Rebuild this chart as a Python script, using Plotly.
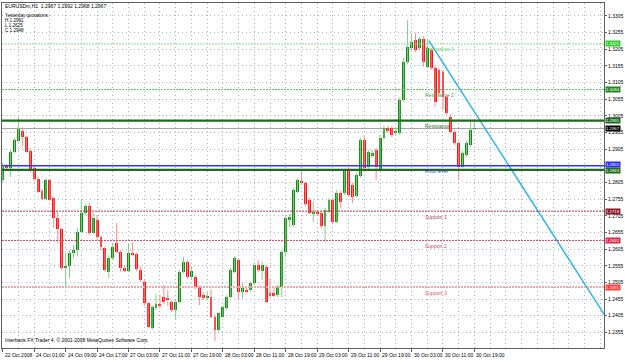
import plotly.graph_objects as go

# ---------------- data (EURUSDm, H1) ----------------
opens = [1.2813, 1.2853, 1.2848, 1.2898, 1.2931, 1.2961, 1.2941, 1.2901, 1.2848, 1.2816,
         1.2780, 1.2756, 1.2813, 1.2758, 1.2698, 1.2665, 1.2547, 1.2554, 1.2592, 1.2602,
         1.2657, 1.2713, 1.2734, 1.2654, 1.2692, 1.2640, 1.2608, 1.2536, 1.2577, 1.2622,
         1.2597, 1.2547, 1.2540, 1.2594, 1.2589, 1.2542, 1.2507, 1.2442, 1.2367, 1.2427,
         1.2440, 1.2462, 1.2459, 1.2447, 1.2422, 1.2447, 1.2537, 1.2565, 1.2520, 1.2520,
         1.2490, 1.2467, 1.2458, 1.2462, 1.2402, 1.2362, 1.2402, 1.2427, 1.2462, 1.2537,
         1.2572, 1.2477, 1.2482, 1.2482, 1.2502, 1.2557, 1.2540, 1.2552, 1.2473, 1.2472,
         1.2467, 1.2491, 1.2597, 1.2692, 1.2677, 1.2777, 1.2810, 1.2803, 1.2753, 1.2713,
         1.2717, 1.2714, 1.2674, 1.2717, 1.2753, 1.2687, 1.2773, 1.2773, 1.2843, 1.2798,
         1.2765, 1.2825, 1.2933, 1.2852, 1.2885, 1.2903, 1.2843, 1.2938, 1.2968, 1.2968,
         1.2953, 1.2953, 1.3053, 1.3168, 1.3208, 1.3233, 1.3208, 1.3235, 1.3153, 1.3203,
         1.3148, 1.3143, 1.3137, 1.3063, 1.3003, 1.2958, 1.2923, 1.2853, 1.2888, 1.2918,
         1.2967]
highs = [1.2864, 1.2861, 1.2903, 1.2939, 1.3003, 1.2971, 1.2945, 1.2909, 1.2855, 1.2822,
         1.2786, 1.2819, 1.2816, 1.2762, 1.2716, 1.2668, 1.2593, 1.2602, 1.2617, 1.2668,
         1.2753, 1.2740, 1.2743, 1.2716, 1.2707, 1.2644, 1.2611, 1.2587, 1.2623, 1.2683,
         1.2602, 1.2557, 1.2623, 1.2624, 1.2593, 1.2554, 1.2512, 1.2446, 1.2437, 1.2470,
         1.2467, 1.2497, 1.2482, 1.2452, 1.2452, 1.2542, 1.2582, 1.2572, 1.2554, 1.2527,
         1.2494, 1.2476, 1.2477, 1.2484, 1.2407, 1.2416, 1.2437, 1.2467, 1.2548, 1.2584,
         1.2578, 1.2502, 1.2492, 1.2506, 1.2563, 1.2572, 1.2567, 1.2557, 1.2518, 1.2489,
         1.2497, 1.2602, 1.2704, 1.2710, 1.2789, 1.2819, 1.2837, 1.2807, 1.2759, 1.2747,
         1.2722, 1.2719, 1.2728, 1.2759, 1.2759, 1.2783, 1.2780, 1.2846, 1.2849, 1.2804,
         1.2834, 1.2939, 1.2945, 1.2903, 1.2903, 1.2909, 1.2948, 1.2975, 1.2975, 1.2975,
         1.2969, 1.3059, 1.3179, 1.3293, 1.3253, 1.3253, 1.3242, 1.3245, 1.3233, 1.3209,
         1.3155, 1.3149, 1.3143, 1.3068, 1.3011, 1.2963, 1.2927, 1.2900, 1.2930, 1.2988,
         1.2992]
lows = [1.2807, 1.2843, 1.2822, 1.2894, 1.2927, 1.2913, 1.2894, 1.2837, 1.2810, 1.2774,
        1.2753, 1.2753, 1.2750, 1.2668, 1.2622, 1.2542, 1.2491, 1.2518, 1.2578, 1.2584,
        1.2653, 1.2707, 1.2647, 1.2650, 1.2635, 1.2602, 1.2536, 1.2518, 1.2572, 1.2593,
        1.2537, 1.2536, 1.2536, 1.2584, 1.2539, 1.2506, 1.2434, 1.2367, 1.2362, 1.2422,
        1.2428, 1.2440, 1.2434, 1.2416, 1.2392, 1.2443, 1.2533, 1.2515, 1.2515, 1.2485,
        1.2437, 1.2452, 1.2452, 1.2398, 1.2329, 1.2356, 1.2398, 1.2422, 1.2458, 1.2533,
        1.2452, 1.2457, 1.2473, 1.2476, 1.2497, 1.2536, 1.2512, 1.2443, 1.2458, 1.2461,
        1.2461, 1.2461, 1.2582, 1.2671, 1.2671, 1.2774, 1.2798, 1.2734, 1.2710, 1.2687,
        1.2704, 1.2668, 1.2624, 1.2713, 1.2683, 1.2683, 1.2728, 1.2768, 1.2762, 1.2743,
        1.2759, 1.2819, 1.2843, 1.2846, 1.2879, 1.2813, 1.2837, 1.2933, 1.2954, 1.2942,
        1.2948, 1.2948, 1.3047, 1.3161, 1.3203, 1.3197, 1.3203, 1.3153, 1.3149, 1.3143,
        1.3033, 1.3065, 1.3023, 1.3008, 1.2954, 1.2918, 1.2813, 1.2849, 1.2882, 1.2912,
        1.2963]
closes = [1.2853, 1.2849, 1.2898, 1.2933, 1.2965, 1.2943, 1.2898, 1.2843, 1.2815, 1.2777,
          1.2756, 1.2813, 1.2753, 1.2698, 1.2665, 1.2547, 1.2554, 1.2592, 1.2602, 1.2657,
          1.2713, 1.2734, 1.2653, 1.2698, 1.2640, 1.2612, 1.2542, 1.2577, 1.2612, 1.2597,
          1.2547, 1.2539, 1.2592, 1.2589, 1.2544, 1.2512, 1.2442, 1.2372, 1.2430, 1.2440,
          1.2434, 1.2447, 1.2452, 1.2422, 1.2447, 1.2537, 1.2567, 1.2520, 1.2540, 1.2490,
          1.2462, 1.2458, 1.2464, 1.2402, 1.2362, 1.2412, 1.2432, 1.2462, 1.2542, 1.2577,
          1.2477, 1.2487, 1.2477, 1.2502, 1.2557, 1.2542, 1.2556, 1.2447, 1.2464, 1.2465,
          1.2492, 1.2597, 1.2698, 1.2702, 1.2783, 1.2813, 1.2803, 1.2740, 1.2714, 1.2717,
          1.2710, 1.2674, 1.2722, 1.2753, 1.2687, 1.2774, 1.2747, 1.2840, 1.2768, 1.2762,
          1.2828, 1.2933, 1.2849, 1.2897, 1.2894, 1.2852, 1.2938, 1.2968, 1.2960, 1.2948,
          1.2960, 1.3053, 1.3168, 1.3213, 1.3228, 1.3203, 1.3235, 1.3168, 1.3208, 1.3149,
          1.3048, 1.3074, 1.3062, 1.3013, 1.2958, 1.2923, 1.2853, 1.2893, 1.2923, 1.2963,
          1.2967]

x_tick_pos = [0, 8, 16, 24, 32, 40, 48, 56, 64, 72, 80, 88, 96, 104, 112, 120]
x_tick_labels = ["22 Oct 2008", "24 Oct 01:00", "24 Oct 09:00", "24 Oct 17:00",
                 "27 Oct 03:00", "27 Oct 11:00", "27 Oct 19:00", "28 Oct 03:00",
                 "28 Oct 11:00", "28 Oct 19:00", "29 Oct 03:00", "29 Oct 11:00",
                 "29 Oct 19:00", "30 Oct 03:00", "30 Oct 11:00", "30 Oct 19:00"]
x_minor_grid = [4, 12, 20, 28, 36, 44, 52, 60, 68, 76, 84, 92, 100, 108, 116,
                124, 128, 132, 136, 140, 144, 148, 152]
y_tick_vals = [1.2305, 1.2355, 1.2405, 1.2455, 1.2505, 1.2555, 1.2605, 1.2655, 1.2705,
               1.2755, 1.2805, 1.2855, 1.2905, 1.2955, 1.3005, 1.3055, 1.3105, 1.3155,
               1.3205, 1.3255, 1.3305]

level_names = ["Resistance 3", "Resistance 2", "Resistance", "Pivot level",
               "Support 1", "Support 2", "Support 3"]
level_values = [1.3221, 1.3084, 1.2991, 1.2855, 1.2719, 1.2631, 1.2491]
extra_level = 1.2843
current_price = 1.2967

trend_x = [108.4, 153.5]
trend_y = [1.3231, 1.2400]

title_text = "EURUSDm,H1  1.2967 1.2992 1.2968 1.2967"
yesterday_lines = ["Yesterday quotations:", "H 1.2991", "L 1.2625", "C 1.2948"]
copyright_text = "Interbank FX Trader 4, \u00a9 2001-2008 MetaQuotes Software Corp."

# ---------------- styles ----------------
FONT = "Liberation Sans"
BULL, BEAR = "#138c13", "#ff1414"
BULL_WICK, BEAR_WICK = "#84cc84", "#f48c8c"
GRID = "#adb5cc"
GRID_DASH = "1px,3px"

level_styles = [
    dict(color="#7fe07f", width=1, dash="2px,1px"),
    dict(color="#55c455", width=1, dash="2px,1px"),
    dict(color="#1d6b1d", width=2.2, dash="solid"),
    dict(color="#3333ff", width=1.5, dash="solid"),
    dict(color="#a8384c", width=1, dash="2px,1px"),
    dict(color="#dc3c5c", width=1, dash="2px,1px"),
    dict(color="#f4a6a6", width=2, dash="2px,1px"),
]
level_text_colors = ["#6fcf6f", "#4aa64a", "#2e6e2e", "#2b3fb0", "#a05060", "#d0506a", "#e05a5a"]
box_colors = ["#33cc33", "#1e8a1e", "#1d6b1d", "#2a2aff", "#8b1a2a", "#dc2848", "#ff3b3b"]

n = len(opens)
idx = list(range(n))

fig = go.Figure()

# wicks
for bull in (True, False):
    xs, ys = [], []
    for i in idx:
        if (closes[i] >= opens[i]) == bull:
            xs += [i, i, None]
            ys += [lows[i], highs[i], None]
    fig.add_trace(go.Scatter(x=xs, y=ys, mode="lines",
                             line=dict(color=BULL_WICK if bull else BEAR_WICK, width=1),
                             hoverinfo="skip", showlegend=False))

# bodies
base = [min(o, c) for o, c in zip(opens, closes)]
height = [max(abs(c - o), 0.00012) for o, c in zip(opens, closes)]
colors = [BULL if c >= o else BEAR for o, c in zip(opens, closes)]
fig.add_trace(go.Bar(x=idx, y=height, base=base, width=0.74,
                     marker=dict(color=colors, line=dict(width=0)),
                     showlegend=False, hoverinfo="skip"))

# trend line
fig.add_trace(go.Scatter(x=trend_x, y=trend_y, mode="lines",
                         line=dict(color="#35b6ea", width=1.6),
                         showlegend=False, hoverinfo="skip"))

# horizontal levels
fig.add_shape(type="line", xref="paper", x0=0, x1=1, yref="y",
              y0=current_price, y1=current_price,
              line=dict(color="#a0a0a0", width=1), layer="below")
fig.add_shape(type="line", xref="paper", x0=0, x1=1, yref="y",
              y0=extra_level, y1=extra_level,
              line=dict(color="#1d6b1d", width=2.2), layer="above")
for name, val, st, tc in zip(level_names, level_values, level_styles, level_text_colors):
    fig.add_shape(type="line", xref="paper", x0=0, x1=1, yref="y", y0=val, y1=val,
                  line=st, layer="above")
    fig.add_annotation(x=106.8, y=val, xref="x", yref="y", text=name, showarrow=False,
                       xanchor="left", yanchor="top", yshift=-0.5,
                       font=dict(family=FONT, size=5, color=tc))

# right-side price boxes (drawn over the axis labels, as in the terminal)
box_vals = level_values + [extra_level, current_price]
box_cols = box_colors + ["#1d6b1d", "#000000"]
box_shift = [0, 0, 0, 1, 0, 0, 0, -1, 0]
for val, col, sh in zip(box_vals, box_cols, box_shift):
    fig.add_annotation(x=1, y=val, xref="paper", yref="y", text=f"{val:.4f}",
                       showarrow=False, xanchor="left", yanchor="middle", xshift=1,
                       yshift=sh, bgcolor=col, borderpad=0,
                       font=dict(family=FONT, size=4.3, color="#ffffff"))

# x labels (left-aligned at tick like MT4)
for pos, lab in zip(x_tick_pos, x_tick_labels):
    fig.add_annotation(x=pos, y=0, xref="x", yref="paper", text=lab, showarrow=False,
                       xanchor="left", yanchor="top", xshift=0, yshift=-2,
                       font=dict(family=FONT, size=5, color="#000000"))

# top-left texts
fig.add_annotation(x=0, y=1, xref="paper", yref="paper", text=title_text, showarrow=False,
                   xanchor="left", yanchor="middle", xshift=1, yshift=-3,
                   font=dict(family=FONT, size=5, color="#000000"))
for line, dy in zip(yesterday_lines, [-12.7, -17.7, -22.7, -27.6]):
    fig.add_annotation(x=0, y=1, xref="paper", yref="paper", text=line, showarrow=False,
                       xanchor="left", yanchor="middle", xshift=1, yshift=dy,
                       font=dict(family=FONT, size=4.6, color="#000000"))
fig.add_annotation(x=0, y=0, xref="paper", yref="paper", text=copyright_text,
                   showarrow=False, xanchor="left", yanchor="middle", xshift=1, yshift=8,
                   font=dict(family=FONT, size=5, color="#000000"))

# tick label hidden where the pivot box sits on it (it is covered in the terminal too)
y_tick_text = ["" if abs(v - level_values[3]) < 0.0006 else f"{v:.4f}" for v in y_tick_vals]

fig.update_layout(
    width=625, height=360,
    margin=dict(l=1, r=20, t=3, b=12),
    paper_bgcolor="#ffffff", plot_bgcolor="#ffffff",
    barmode="overlay", bargap=0,
    showlegend=False,
    xaxis=dict(range=[-0.18, 152.97], tickvals=x_tick_pos, ticktext=[""] * len(x_tick_pos),
               ticks="outside", ticklen=3, tickcolor="#606060",
               showgrid=True, gridcolor=GRID, griddash=GRID_DASH, gridwidth=1,
               minor=dict(tickvals=x_minor_grid, showgrid=True, gridcolor=GRID,
                          griddash=GRID_DASH, gridwidth=1, ticks=""),
               showline=True, linecolor="#606060", linewidth=1, mirror=True,
               zeroline=False, fixedrange=True),
    yaxis=dict(range=[1.2308, 1.3344], side="right", tickvals=y_tick_vals,
               ticktext=y_tick_text,
               ticks="outside", ticklen=2, tickcolor="#606060",
               tickfont=dict(family=FONT, size=5, color="#000000"),
               showgrid=True, gridcolor=GRID, griddash=GRID_DASH, gridwidth=1,
               showline=True, linecolor="#606060", linewidth=1, mirror=True,
               zeroline=False, fixedrange=True),
)

fig.write_html("out.html")
